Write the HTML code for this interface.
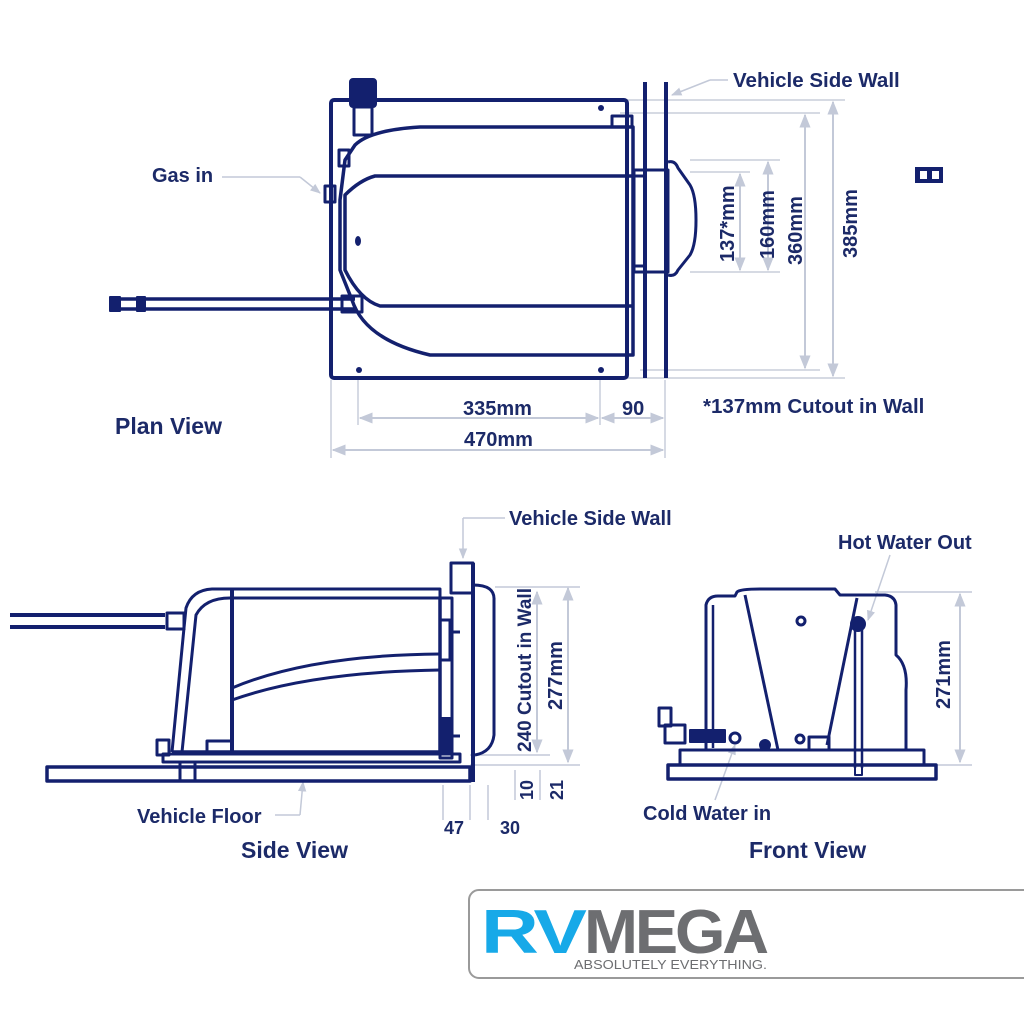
<!DOCTYPE html>
<html><head><meta charset="utf-8"><style>
body{margin:0;background:#fff;}
svg{display:block}
text{font-family:"Liberation Sans",Arial,sans-serif;font-weight:bold;fill:#1c2a68}
</style></head><body>
<svg width="1024" height="1024" viewBox="0 0 1024 1024" xmlns="http://www.w3.org/2000/svg">
<defs>
<marker id="a" viewBox="0 0 10 10" refX="9" refY="5" markerWidth="7" markerHeight="7" orient="auto-start-reverse"><path d="M0,1L10,5L0,9z" fill="#c3c9d8"/></marker>
</defs>
<g stroke="#c8cdda" stroke-width="1.5" fill="none">
<line x1="620" y1="100" x2="845" y2="100"/><line x1="620" y1="113" x2="820" y2="113"/>
<line x1="690" y1="160" x2="780" y2="160"/><line x1="690" y1="172" x2="750" y2="172"/>
<line x1="690" y1="272" x2="780" y2="272"/><line x1="640" y1="370" x2="820" y2="370"/><line x1="620" y1="378" x2="845" y2="378"/>
<line x1="331" y1="380" x2="331" y2="458"/><line x1="358" y1="380" x2="358" y2="425"/><line x1="600" y1="380" x2="600" y2="425"/><line x1="665" y1="380" x2="665" y2="458"/>
</g>
<g stroke="#c3c9d8" stroke-width="2" fill="none" marker-start="url(#a)" marker-end="url(#a)">
<line x1="740" y1="174" x2="740" y2="270"/>
<line x1="768" y1="162" x2="768" y2="270"/>
<line x1="805" y1="115" x2="805" y2="368"/>
<line x1="833" y1="102" x2="833" y2="376"/>
<line x1="360" y1="418" x2="598" y2="418"/>
<line x1="602" y1="418" x2="663" y2="418"/>
<line x1="333" y1="450" x2="663" y2="450"/>
<line x1="537" y1="592" x2="537" y2="752"/>
<line x1="568" y1="588" x2="568" y2="762"/>
<line x1="960" y1="594" x2="960" y2="762"/>
</g>
<g stroke="#c3c9d8" stroke-width="1.5" fill="none">
<line x1="495" y1="587" x2="580" y2="587"/><line x1="470" y1="755" x2="550" y2="755"/><line x1="470" y1="765" x2="580" y2="765"/>
<line x1="875" y1="592" x2="972" y2="592"/><line x1="890" y1="765" x2="972" y2="765"/>
<line x1="443" y1="785" x2="443" y2="820"/><line x1="470" y1="785" x2="470" y2="820"/><line x1="488" y1="785" x2="488" y2="820"/>
<line x1="515" y1="770" x2="515" y2="800"/><line x1="540" y1="770" x2="540" y2="800"/>
<line x1="222" y1="177" x2="300" y2="177"/><line x1="300" y1="177" x2="320" y2="193" marker-end="url(#a)"/>
<line x1="728" y1="80" x2="710" y2="80"/><line x1="710" y1="80" x2="672" y2="95" marker-end="url(#a)"/>
<line x1="505" y1="518" x2="463" y2="518"/><line x1="463" y1="518" x2="463" y2="558" marker-end="url(#a)"/>
<line x1="275" y1="815" x2="300" y2="815"/><line x1="300" y1="815" x2="303" y2="782" marker-end="url(#a)"/>
<line x1="890" y1="555" x2="868" y2="620" marker-end="url(#a)"/>
<line x1="715" y1="800" x2="735" y2="745" marker-end="url(#a)"/>
</g>
<g stroke="#13206e" stroke-width="4" fill="none" stroke-linejoin="round">
<rect x="331" y="100" width="296" height="278" rx="3"/>
<path d="M633,127 H420 Q370,130 355,145 L345,160 L340,200 L340,270 L352,300 Q365,340 430,355 H633 Z" stroke-width="3.5"/>
<path d="M633,176 H375 Q360,180 345,195 L345,270 Q360,300 380,306 H633" stroke-width="3.5"/>
<rect x="612" y="116" width="20" height="11" stroke-width="3"/>
<line x1="645" y1="82" x2="645" y2="378"/><line x1="666" y1="82" x2="666" y2="378"/>
<rect x="633" y="176" width="12" height="90" stroke-width="3"/>
<path d="M634,170 H668 V272 H634 Z" stroke-width="3"/>
<path d="M668,162 Q675,160 678,168 L690,185 Q696,195 696,220 Q696,245 690,255 L678,270 Q675,277 668,275" stroke-width="3"/>
<rect x="350" y="79" width="26" height="28" rx="3" fill="#13206e" stroke-width="2"/>
<rect x="354" y="107" width="18" height="28" stroke-width="3"/>
<rect x="325" y="186" width="10" height="16" stroke-width="3"/>
<rect x="339" y="150" width="10" height="16" stroke-width="3"/>
<path d="M110,299 H355 M110,309 H355" stroke-width="3.5"/>
<rect x="110" y="297" width="10" height="14" fill="#13206e" stroke-width="2"/>
<rect x="137" y="297" width="8" height="14" fill="#13206e" stroke-width="2"/>
<rect x="342" y="296" width="20" height="16" stroke-width="3"/>
<rect x="47" y="767" width="423" height="14" stroke-width="3.5"/>
<rect x="163" y="754" width="297" height="8" stroke-width="3"/>
<path d="M10,615 H165 M10,627 H165" stroke-width="4"/>
<rect x="167" y="613" width="17" height="16" stroke-width="3"/>
<path d="M172,752 L184,628 L186,608 Q192,590 212,589 H440 V598 H230 Q205,598 196,615 L182,752" stroke-width="3"/>
<line x1="232" y1="590" x2="232" y2="752" stroke-width="4"/>
<path d="M172,752 H440 V598" stroke-width="3.5"/>
<path d="M232,688 Q310,655 440,654 M232,700 Q310,672 440,670" stroke-width="3"/>
<rect x="207" y="741" width="25" height="12" stroke-width="3"/>
<rect x="157" y="740" width="12" height="15" stroke-width="3"/>
<rect x="440" y="598" width="12" height="160" stroke-width="3"/>
<rect x="451" y="563" width="22" height="30" stroke-width="3"/>
<line x1="473" y1="563" x2="473" y2="782" stroke-width="4"/>
<path d="M473,585 Q495,585 494,600 V735 Q492,752 475,755" stroke-width="3"/>
<rect x="440" y="620" width="10" height="40" stroke-width="3"/>
<rect x="440" y="718" width="10" height="35" fill="#13206e" stroke-width="2"/>
<line x1="450" y1="632" x2="460" y2="632" stroke-width="3"/><line x1="450" y1="736" x2="460" y2="736" stroke-width="3"/>
<line x1="180" y1="762" x2="180" y2="781" stroke-width="3"/><line x1="195" y1="762" x2="195" y2="781" stroke-width="3"/>
<rect x="668" y="765" width="268" height="14" stroke-width="3.5"/>
<rect x="680" y="750" width="244" height="15" stroke-width="3"/>
<path d="M706,750 V605 Q708,596 718,596 H735 L737,592 Q740,589 760,589 H835 L840,595 H885 Q895,596 896,605 V655 Q908,665 906,690 V750" stroke-width="3"/>
<line x1="713" y1="605" x2="713" y2="748" stroke-width="2.5"/>
<line x1="745" y1="595" x2="778" y2="750" stroke-width="3"/>
<line x1="857" y1="598" x2="827" y2="745" stroke-width="3"/>
<circle cx="801" cy="621" r="4" stroke-width="3"/>
<circle cx="800" cy="739" r="4" stroke-width="3"/>
<circle cx="858" cy="624" r="7" fill="#13206e" stroke-width="2"/>
<path d="M855,630 V768 M862,630 V768" stroke-width="2.5"/>
<rect x="855" y="750" width="7" height="25" stroke-width="2"/>
<rect x="809" y="737" width="20" height="13" stroke-width="3"/>
<circle cx="765" cy="745" r="5" fill="#13206e" stroke-width="2"/>
<rect x="659" y="708" width="12" height="18" stroke-width="3"/>
<rect x="665" y="725" width="20" height="18" stroke-width="3"/>
<rect x="690" y="730" width="35" height="12" fill="#13206e" stroke-width="2"/>
<circle cx="735" cy="738" r="5" stroke-width="3"/>
</g>
<g fill="#13206e">
<circle cx="601" cy="108" r="3"/><circle cx="359" cy="370" r="3"/><circle cx="601" cy="370" r="3"/>
<ellipse cx="358" cy="241" rx="3" ry="5"/>
<rect x="915" y="167" width="28" height="16"/>
</g>
<rect x="920" y="171" width="7" height="8" fill="#fff"/><rect x="932" y="171" width="7" height="8" fill="#fff"/>
<text x="152" y="182" font-size="20">Gas in</text>
<text x="733" y="87" font-size="20.5">Vehicle Side Wall</text>
<text x="115" y="434" font-size="23">Plan View</text>
<text x="463" y="415" font-size="20">335mm</text>
<text x="622" y="415" font-size="20">90</text>
<text x="464" y="446" font-size="20">470mm</text>
<text x="703" y="413" font-size="20.5">*137mm Cutout in Wall</text>
<text transform="translate(734,262) rotate(-90)" font-size="20">137*mm</text>
<text transform="translate(774,259) rotate(-90)" font-size="20">160mm</text>
<text transform="translate(802,265) rotate(-90)" font-size="20">360mm</text>
<text transform="translate(857,258) rotate(-90)" font-size="20">385mm</text>
<text x="509" y="525" font-size="20">Vehicle Side Wall</text>
<text x="838" y="549" font-size="20">Hot Water Out</text>
<text transform="translate(531,752) rotate(-90)" font-size="19">240 Cutout in Wall</text>
<text transform="translate(562,710) rotate(-90)" font-size="20">277mm</text>
<text transform="translate(950,709) rotate(-90)" font-size="20">271mm</text>
<text transform="translate(533,800) rotate(-90)" font-size="18">10</text>
<text transform="translate(563,800) rotate(-90)" font-size="18">21</text>
<text x="444" y="834" font-size="18">47</text>
<text x="500" y="834" font-size="18">30</text>
<text x="137" y="823" font-size="20">Vehicle Floor</text>
<text x="241" y="858" font-size="23">Side View</text>
<text x="643" y="820" font-size="20">Cold Water in</text>
<text x="749" y="858" font-size="23">Front View</text>
<rect x="469" y="890" width="570" height="88" rx="10" fill="#fff" stroke="#9a9a9a" stroke-width="2"/>
<text x="481" y="953" font-size="62" style="fill:#17a9e8;font-weight:900;letter-spacing:-3px" textLength="102" lengthAdjust="spacingAndGlyphs">RV</text>
<text x="584" y="953" font-size="62" style="fill:#6d6e71;font-weight:900;letter-spacing:-3px" textLength="182" lengthAdjust="spacingAndGlyphs">MEGA</text>
<text x="574" y="969" font-size="12.5" style="fill:#6d6e71;font-weight:normal" textLength="193" lengthAdjust="spacingAndGlyphs">ABSOLUTELY EVERYTHING.</text>
</svg>
</body></html>
